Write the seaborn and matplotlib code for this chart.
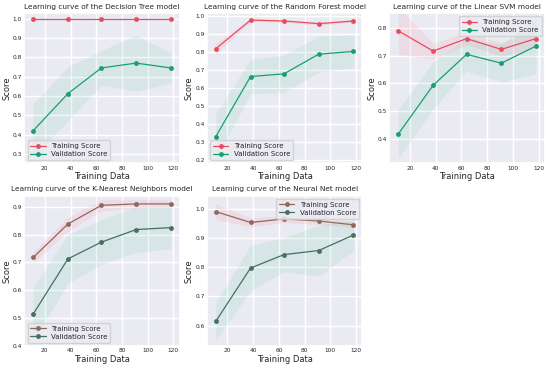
import numpy as np
import pandas as pd
import matplotlib.pyplot as plt
import seaborn as sns

sizes = [11, 38, 64, 91, 118]

models = ["Decision Tree", "Random Forest", "Linear SVM", "K-Nearest Neighbors", "Neural Net"]

train_mean = {
    "Decision Tree": [1.0, 1.0, 1.0, 1.0, 1.0],
    "Random Forest": [0.82, 0.98, 0.975, 0.96, 0.975],
    "Linear SVM": [0.79, 0.717, 0.762, 0.723, 0.762],
    "K-Nearest Neighbors": [0.718, 0.838, 0.905, 0.91, 0.91],
    "Neural Net": [0.99, 0.953, 0.965, 0.958, 0.945],
}
train_std = {
    "Decision Tree": [0.0, 0.0, 0.0, 0.0, 0.0],
    "Random Forest": [0.03, 0.008, 0.008, 0.008, 0.008],
    "Linear SVM": [0.085, 0.028, 0.022, 0.025, 0.032],
    "K-Nearest Neighbors": [0.02, 0.025, 0.02, 0.015, 0.015],
    "Neural Net": [0.027, 0.015, 0.012, 0.012, 0.01],
}
val_mean = {
    "Decision Tree": [0.42, 0.612, 0.745, 0.77, 0.745],
    "Random Forest": [0.33, 0.665, 0.68, 0.79, 0.805],
    "Linear SVM": [0.417, 0.593, 0.705, 0.673, 0.735],
    "K-Nearest Neighbors": [0.515, 0.713, 0.773, 0.818, 0.825],
    "Neural Net": [0.615, 0.797, 0.843, 0.857, 0.91],
}
val_std = {
    "Decision Tree": [0.14, 0.14, 0.09, 0.145, 0.078],
    "Random Forest": [0.13, 0.095, 0.105, 0.1, 0.092],
    "Linear SVM": [0.088, 0.085, 0.06, 0.068, 0.1],
    "K-Nearest Neighbors": [0.095, 0.088, 0.08, 0.082, 0.075],
    "Neural Net": [0.065, 0.078, 0.058, 0.088, 0.053],
}
ylims = {
    "Decision Tree": (0.25, 1.03),
    "Random Forest": (0.18, 1.02),
    "Linear SVM": (0.31, 0.855),
    "K-Nearest Neighbors": (0.4, 0.94),
    "Neural Net": (0.53, 1.045),
}
legend_loc = {
    "Decision Tree": "lower left",
    "Random Forest": "lower left",
    "Linear SVM": "upper right",
    "K-Nearest Neighbors": "lower left",
    "Neural Net": "upper right",
}

sns.set_theme(style="darkgrid")
plt.rcParams['font.family'] = ['DejaVu Sans']

fig, axes = plt.subplots(2, 3, figsize=(5.5, 3.69), dpi=100)
fig.subplots_adjust(left=0.044, right=0.991, top=0.965, bottom=0.062, wspace=0.173, hspace=0.213)

for i, name in enumerate(models):
    ax = axes.flat[i]
    if i < 3:
        c_tr, c_val = "#e84d5f", "#17a06f"
    else:
        c_tr, c_val = "#8e6a5b", "#46705f"
    df = pd.DataFrame({
        "size": sizes,
        "train": train_mean[name],
        "val": val_mean[name],
    })
    tr_lo = np.array(train_mean[name]) - np.array(train_std[name])
    tr_hi = np.array(train_mean[name]) + np.array(train_std[name])
    va_lo = np.array(val_mean[name]) - np.array(val_std[name])
    va_hi = np.array(val_mean[name]) + np.array(val_std[name])
    ax.fill_between(sizes, tr_lo, tr_hi, color="#ff6b81", alpha=0.12, linewidth=0)
    ax.fill_between(sizes, va_lo, va_hi, color="#3fbf8f", alpha=0.1, linewidth=0)
    sns.lineplot(data=df, x="size", y="train", marker="o", color=c_tr, ax=ax,
                 label="Training Score", linewidth=0.9, markersize=3.5, markeredgewidth=0)
    sns.lineplot(data=df, x="size", y="val", marker="o", color=c_val, ax=ax,
                 label="Validation Score", linewidth=0.9, markersize=3.5, markeredgewidth=0)
    ax.set_ylim(*ylims[name])
    ax.set_xlim(4, 125)
    ax.set_xticks([20, 40, 60, 80, 100, 120])
    ax.set_title(f"Learning curve of the {name} model", fontsize=5.3, pad=3)
    ax.set_xlabel("Training Data", fontsize=6, labelpad=1)
    ax.set_ylabel("Score", fontsize=6, labelpad=1)
    ax.tick_params(labelsize=4.2, pad=1.5, length=0)
    ax.legend(loc=legend_loc[name], fontsize=5, handlelength=2.2, borderpad=0.4, labelspacing=0.3)

axes.flat[5].axis("off")

plt.savefig("out.png")
plt.close()
